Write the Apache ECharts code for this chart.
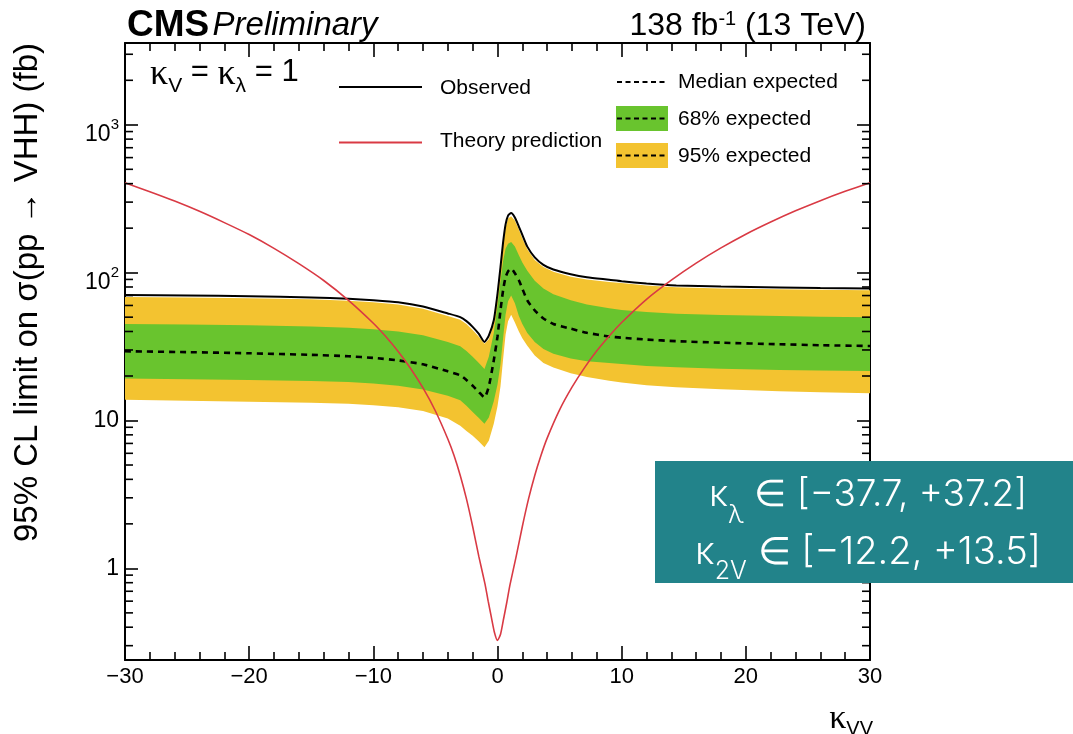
<!DOCTYPE html>
<html><head><meta charset="utf-8">
<script src="https://cdn.jsdelivr.net/npm/echarts@6/dist/echarts.min.js"></script>
<style>html,body{margin:0;padding:0;background:#fff;}#c{width:1073px;height:734px;}</style>
</head><body><div id="c"></div>
<script>
// ---- data ----
const kvv = [-30,-25,-20,-15,-12,-10,-8,-6,-4,-3,-2.5,-2,-1.5,-1.05,-0.7,-0.3,0,0.24,0.45,0.65,0.85,1.1,1.4,1.72,2.0,2.4,3.0,3.7,4.5,5.9,7.2,9,10,12,14.4,18,22.7,26,30];
const observed = [70.5,70,69.3,68,66.5,65,63,59,53,50,47,43,38.5,34,37.5,47.6,72,109,160,212,243,253,236,205,180,150,127,113,105,97.5,93,89.5,87.5,84.5,82,80.5,79.3,78.6,78];
const expMedian = [29.4,29,28.5,27.8,27.2,26.5,25.5,24,21.5,20.2,18.8,17.2,15.6,14.3,17,25.5,37,55.6,76,93,102,106.6,99,88.8,78,65,55.5,49,45,41.8,39.2,37,36.3,35.3,34.4,33.6,32.8,32.3,31.9];
const exp68Hi = [45,44.6,44,43.2,42.4,41.5,40,37.8,34,31.8,29.5,27,24.5,22.3,27,39,60,88,120,145,157,161,150,131,117,103,88,78,71.5,65,61,57.5,56,54.2,52.8,51.7,50.9,50.4,50];
const exp68Lo = [19.2,19,18.8,18.5,18.2,17.8,17.2,16.2,14.7,13.7,12.6,11.4,10.4,9.5,10.5,13.5,17.5,24,36,52,64,70,62,51,45,39,34,30.5,28.3,26.3,25.2,24.5,24.1,23.4,22.9,22.4,22,21.8,21.6];
const exp95Hi = [68.5,68,67.2,66,64.5,63,61,57,51,48,45,41,36.8,33,35.5,45,68,103,152,202,232,241,225,196,171,144,122,109,101.5,94,90,86.5,85,82,79.8,78.2,77.2,76.5,76];
const exp95Lo = [13.8,13.6,13.4,13.2,13,12.7,12.3,11.6,10.3,9.2,8.5,7.9,7.2,6.6,7.3,9.5,12.5,17,26,38,47,52,46,40,36,32,27.5,24.5,22.8,20.9,19.7,18.6,18.1,17.3,16.8,16.3,15.8,15.5,15.3];
const theoryX = [-30,-28,-26,-24,-22,-20,-18,-16,-14,-12,-10,-9,-8,-7,-6,-5,-4,-3.5,-3,-2.5,-2,-1.5,-1,-0.75,-0.5,-0.25,0,0.25,0.5,0.75,1,1.5,2,2.5,3,3.5,4,5,6,7,8,9,10,12,14,16,18,20,22,24,26,28,30];
const theoryXS = [405,353,305,260,218,181,146,115,88.5,65,45.5,37,29.3,22.5,16.6,11.6,7.5,5.8,4.25,2.95,1.92,1.2,0.78,0.6,0.47,0.37,0.325,0.36,0.46,0.59,0.77,1.2,1.92,2.95,4.25,5.8,7.6,11.8,16.8,22.7,29.6,37.3,46,66,89,116,147,182,220,262,307,355,406];
const xTickLabels = {'-30':'\u221230','-20':'\u221220','-10':'\u221210','0':'0','10':'10','20':'20','30':'30'};
const yTickLabels = {0:'1',1:'10',2:'{n|10}{sup|2}',3:'{n|10}{sup|3}'};
const yMinorTicks = [0.3,0.4,0.5,0.6,0.7,0.8,0.9,2,3,4,5,6,7,8,9,20,30,40,50,60,70,80,90,200,300,400,500,600,700,800,900,2000,3000];
const yMin = 0.24, yMax = 3575;

const FONT = 'Liberation Sans, Arial, Helvetica, sans-serif';
const GREEN = '#69c42e', YELLOW = '#f3c330', RED = '#d93a44';

function bandSeries(name, lo, hi, color, z) {
  return {
    type: 'custom', name: name, z: z, silent: true, clip: true,
    xAxisIndex: 0, yAxisIndex: 0,
    data: kvv.map((x, i) => [x, lo[i], hi[i]]),
    encode: {x: 0, y: [1, 2]},
    renderItem: function (params, api) {
      if (params.dataIndex !== 0) return null;
      const pts = [];
      for (let i = 0; i < kvv.length; i++) pts.push(api.coord([kvv[i], hi[i]]));
      for (let i = kvv.length - 1; i >= 0; i--) pts.push(api.coord([kvv[i], lo[i]]));
      return {type: 'polygon', shape: {points: pts}, style: {fill: color}};
    }
  };
}

const chart = echarts.init(document.getElementById('c'), null, {renderer: 'canvas'});
const tickStyle = {color: '#000', width: 1.6};
const axisLineStyle = {color: '#000', width: 2};

const option = {
  animation: false,
  backgroundColor: '#fff',
  grid: {left: 125, top: 43, width: 745, height: 617, show: false},
  xAxis: [
    {type: 'value', min: -30, max: 30, interval: 10, position: 'bottom',
     axisLine: {show: true, onZero: false, lineStyle: axisLineStyle},
     axisTick: {show: true, inside: true, length: 14, lineStyle: tickStyle},
     minorTick: {show: true, splitNumber: 5, length: 8, lineStyle: tickStyle},
     splitLine: {show: false}, minorSplitLine: {show: false},
     axisLabel: {show: true, margin: 6, fontSize: 22, color: '#000', fontFamily: FONT,
       formatter: v => xTickLabels[String(Math.round(v))] || String(v)}},
    {type: 'value', min: -30, max: 30, interval: 10, position: 'top',
     axisLine: {show: true, onZero: false, lineStyle: axisLineStyle},
     axisTick: {show: true, inside: true, length: 14, lineStyle: tickStyle},
     minorTick: {show: true, splitNumber: 5, length: 8, lineStyle: tickStyle},
     splitLine: {show: false}, axisLabel: {show: false}}
  ],
  yAxis: [
    {type: 'log', logBase: 10, min: yMin, max: yMax, position: 'left',
     axisLine: {show: true, onZero: false, lineStyle: axisLineStyle},
     axisTick: {show: true, inside: true, length: 13, lineStyle: tickStyle},
     splitLine: {show: false},
     axisLabel: {show: true, margin: 6, showMinLabel: false, showMaxLabel: false, color: '#000',
       fontSize: 23, fontFamily: FONT,
       formatter: v => { const k = Math.round(Math.log10(v)); return yTickLabels[k] !== undefined ? yTickLabels[k] : ''; },
       rich: {
         n: {fontSize: 23, fontFamily: FONT, color: '#000', lineHeight: 23, verticalAlign: 'top', padding: [10, 0, 0, 0]},
         sup: {fontSize: 15, fontFamily: FONT, color: '#000', lineHeight: 15, verticalAlign: 'top', padding: [4, 0, 0, 0]}
       }}},
    {type: 'log', logBase: 10, min: yMin, max: yMax, position: 'right',
     axisLine: {show: true, onZero: false, lineStyle: axisLineStyle},
     axisTick: {show: true, inside: true, length: 13, lineStyle: tickStyle},
     splitLine: {show: false}, axisLabel: {show: false}}
  ],
  series: [
    bandSeries('95% expected', exp95Lo, exp95Hi, YELLOW, 1),
    bandSeries('68% expected', exp68Lo, exp68Hi, GREEN, 2),
    {type: 'line', name: 'Median expected', z: 3, xAxisIndex: 0, yAxisIndex: 0,
     data: kvv.map((x, i) => [x, expMedian[i]]), showSymbol: false, symbol: 'none', smooth: 0.2,
     lineStyle: {color: '#000', width: 2.6, type: [6, 5]}, silent: true},
    {type: 'line', name: 'Observed', z: 5, xAxisIndex: 0, yAxisIndex: 0,
     data: kvv.map((x, i) => [x, observed[i]]), showSymbol: false, symbol: 'none', smooth: 0.2,
     lineStyle: {color: '#000', width: 2}, silent: true},
    {type: 'line', name: 'Theory prediction', z: 6, xAxisIndex: 0, yAxisIndex: 0,
     data: theoryX.map((x, i) => [x, theoryXS[i]]), showSymbol: false, symbol: 'none', smooth: 0.2,
     lineStyle: {color: RED, width: 1.6}, silent: true},
    {type: 'custom', name: 'minorLogTicks', z: 7, silent: true, xAxisIndex: 0, yAxisIndex: 0,
     data: [[0, 1]],
     renderItem: function (params, api) {
       if (params.dataIndex !== 0) return null;
       const cs = params.coordSys; const children = [];
       yMinorTicks.forEach(v => {
         const y = api.coord([0, v])[1];
         children.push({type: 'line', shape: {x1: cs.x, y1: y, x2: cs.x + 8, y2: y}, style: {stroke: '#000', lineWidth: 1.6}});
         children.push({type: 'line', shape: {x1: cs.x + cs.width - 8, y1: y, x2: cs.x + cs.width, y2: y}, style: {stroke: '#000', lineWidth: 1.6}});
       });
       return {type: 'group', children: children};
     }}
  ],
  graphic: [
    // header
    {type: 'text', x: 127, y: 26, style: {text: '{b|CMS} {i|Preliminary}', verticalAlign: 'middle', align: 'left',
      rich: {b: {fontSize: 37, fontWeight: 'bold', fontFamily: FONT, fill: '#000'},
             i: {fontSize: 33, fontStyle: 'italic', fontFamily: FONT, fill: '#000'}}}},
    {type: 'text', x: 866, y: 26, style: {text: '138 fb{s|-1} (13 TeV)', verticalAlign: 'middle', align: 'right',
      font: '32px ' + FONT, fill: '#000',
      rich: {s: {fontSize: 20, fontFamily: FONT, fill: '#000', verticalAlign: 'top', padding: [0, 0, 13, 0]}}}},
    // kappa text
    {type: 'text', x: 150, y: 74, style: {text: '{k|\u03ba}{s|V}{t| = }{k|\u03ba}{s|\u03bb}{t| = 1}', align: 'left', verticalAlign: 'middle',
      rich: {k: {fontSize: 36, fontFamily: 'Liberation Serif, serif', fill: '#000', verticalAlign: 'top', lineHeight: 34},
             t: {fontSize: 31, fontFamily: FONT, fill: '#000', verticalAlign: 'top', lineHeight: 34},
             s: {fontSize: 21, fontFamily: FONT, fill: '#000', verticalAlign: 'top', lineHeight: 21, padding: [19, 0, 0, 0]}}}},
    // legend
    {type: 'line', shape: {x1: 339, y1: 87, x2: 422, y2: 87}, style: {stroke: '#000', lineWidth: 2}},
    {type: 'text', x: 440, y: 88, style: {text: 'Observed', font: '21px ' + FONT, fill: '#000', verticalAlign: 'middle'}},
    {type: 'line', shape: {x1: 339, y1: 142.5, x2: 422, y2: 142.5}, style: {stroke: RED, lineWidth: 2}},
    {type: 'text', x: 440, y: 141, style: {text: 'Theory prediction', font: '21px ' + FONT, fill: '#000', verticalAlign: 'middle'}},
    {type: 'line', shape: {x1: 617, y1: 82, x2: 668, y2: 82}, style: {stroke: '#000', lineWidth: 2.2, lineDash: [5, 3.5]}},
    {type: 'text', x: 678, y: 82, style: {text: 'Median expected', font: '21px ' + FONT, fill: '#000', verticalAlign: 'middle'}},
    {type: 'rect', shape: {x: 616, y: 106, width: 52, height: 25}, style: {fill: GREEN}},
    {type: 'line', shape: {x1: 617, y1: 118.5, x2: 668, y2: 118.5}, style: {stroke: '#000', lineWidth: 2.2, lineDash: [5, 3.5]}},
    {type: 'text', x: 678, y: 119, style: {text: '68% expected', font: '21px ' + FONT, fill: '#000', verticalAlign: 'middle'}},
    {type: 'rect', shape: {x: 616, y: 143, width: 52, height: 25}, style: {fill: YELLOW}},
    {type: 'line', shape: {x1: 617, y1: 155.5, x2: 668, y2: 155.5}, style: {stroke: '#000', lineWidth: 2.2, lineDash: [5, 3.5]}},
    {type: 'text', x: 678, y: 156, style: {text: '95% expected', font: '21px ' + FONT, fill: '#000', verticalAlign: 'middle'}},
    // y axis title
    {type: 'text', x: 28, y: 43, rotation: Math.PI / 2,
     style: {text: '95% CL limit on \u03c3(pp \u2192 VHH) (fb)', font: '33px ' + FONT, fill: '#000', align: 'right', verticalAlign: 'middle'}},
    // x axis title
    {type: 'text', x: 873, y: 702, style: {text: '{k|\u03ba}{s|VV}', align: 'right', verticalAlign: 'top',
      rich: {k: {fontSize: 34, fontFamily: 'Liberation Serif, serif', fill: '#000', verticalAlign: 'top', lineHeight: 32},
             s: {fontSize: 20, fontFamily: FONT, fill: '#000', verticalAlign: 'top', lineHeight: 20, padding: [17, 0, 0, 0]}}}},
    // teal box
    {type: 'rect', z: 100, shape: {x: 655, y: 461, width: 418, height: 122}, style: {fill: '#22838a'}},
    {type: 'text', z: 101, x: 868, y: 476, style: {text: '{m|\u03ba}{s|\u03bb}{m| \u2208 [\u221237.7, +37.2]}', align: 'center', verticalAlign: 'top',
      rich: {m: {fontSize: 37, fontFamily: 'Inter, sans-serif', fontWeight: 300, fill: '#fff', lineHeight: 40, verticalAlign: 'top'},
             s: {fontSize: 25, fontFamily: 'Inter, sans-serif', fontWeight: 300, fill: '#fff', lineHeight: 25, verticalAlign: 'top', padding: [27, 0, 0, 0]}}}},
    {type: 'text', z: 101, x: 868, y: 534, style: {text: '{m|\u03ba}{s|2V}{m| \u2208 [\u221212.2, +13.5]}', align: 'center', verticalAlign: 'top',
      rich: {m: {fontSize: 38, fontFamily: 'Inter, sans-serif', fontWeight: 300, fill: '#fff', lineHeight: 40, verticalAlign: 'top'},
             s: {fontSize: 25, fontFamily: 'Inter, sans-serif', fontWeight: 300, fill: '#fff', lineHeight: 25, verticalAlign: 'top', padding: [25, 0, 0, 0]}}}}
  ]
};
chart.setOption(option);
</script>
</body></html>
